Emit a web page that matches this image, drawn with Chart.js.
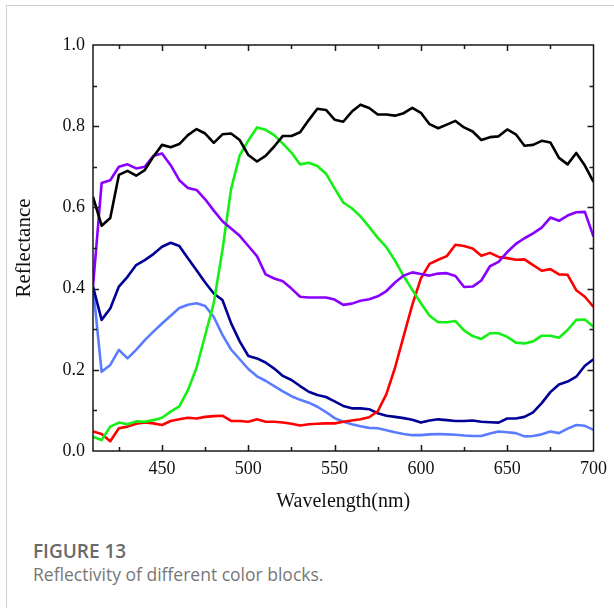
<!DOCTYPE html>
<html>
<head>
<meta charset="utf-8">
<script src="https://cdn.jsdelivr.net/npm/chart.js@4/dist/chart.umd.min.js"></script>
<style>
  html, body { margin: 0; padding: 0; background: #fff; }
  body { width: 614px; height: 608px; position: relative; overflow: hidden; }
  .card { position: absolute; left: 6px; top: 5px; right: 0; bottom: 0; border-left: 1px solid #cfcfcf; border-top: 1px solid #cfcfcf; }
  #reflChart { position: absolute; left: 0; top: 0; }
  .fig-no { position: absolute; left: 33px; top: 538px; font: 600 19px "Open Sans", sans-serif; color: #6a6a6a; }
  .fig-text { position: absolute; left: 33px; top: 562px; font: 17.5px "Open Sans", sans-serif; color: #777; }
</style>
</head>
<body>
<div class="card"></div>
<canvas id="reflChart" width="614" height="521"></canvas>
<div class="fig-no">FIGURE 13</div>
<div class="fig-text">Reflectivity of different color blocks.</div>

<script>
// wavelength samples (nm)
const wavelengths = [410, 415, 420, 425, 430, 435, 440, 445, 450, 455, 460, 465, 470, 475, 480, 485, 490, 495, 500, 505,
    510, 515, 520, 525, 530, 535, 540, 545, 550, 555, 560, 565, 570, 575, 580, 585, 590, 595, 600, 605,
    610, 615, 620, 625, 630, 635, 640, 645, 650, 655, 660, 665, 670, 675, 680, 685, 690, 695, 700];

const blackBlock = [0.626, 0.555, 0.574, 0.680, 0.690, 0.678, 0.692, 0.725, 0.754, 0.748, 0.756, 0.778, 0.793, 0.782, 0.759, 0.780, 0.782, 0.766, 0.729, 0.713,
    0.727, 0.750, 0.776, 0.776, 0.785, 0.815, 0.843, 0.840, 0.816, 0.811, 0.836, 0.853, 0.845, 0.829, 0.829, 0.826, 0.832, 0.845, 0.833, 0.805,
    0.795, 0.804, 0.813, 0.797, 0.787, 0.766, 0.773, 0.775, 0.792, 0.780, 0.752, 0.754, 0.764, 0.760, 0.722, 0.706, 0.734, 0.703, 0.663];

const purpleBlock = [0.405, 0.660, 0.667, 0.700, 0.706, 0.696, 0.700, 0.727, 0.733, 0.704, 0.667, 0.648, 0.643, 0.620, 0.592, 0.566, 0.548, 0.530, 0.505, 0.480,
    0.435, 0.425, 0.418, 0.400, 0.380, 0.378, 0.378, 0.378, 0.373, 0.360, 0.363, 0.370, 0.374, 0.381, 0.394, 0.415, 0.432, 0.440, 0.436, 0.432,
    0.437, 0.438, 0.431, 0.404, 0.405, 0.420, 0.455, 0.466, 0.490, 0.510, 0.524, 0.536, 0.550, 0.575, 0.567, 0.580, 0.588, 0.589, 0.528];

const greenBlock = [0.035, 0.027, 0.060, 0.070, 0.066, 0.073, 0.072, 0.076, 0.082, 0.097, 0.110, 0.150, 0.205, 0.285, 0.365, 0.495, 0.645, 0.728, 0.765, 0.797,
    0.791, 0.778, 0.757, 0.735, 0.706, 0.710, 0.702, 0.683, 0.647, 0.612, 0.598, 0.578, 0.552, 0.525, 0.502, 0.469, 0.431, 0.397, 0.364, 0.333,
    0.317, 0.317, 0.320, 0.297, 0.283, 0.276, 0.290, 0.290, 0.281, 0.267, 0.265, 0.270, 0.284, 0.284, 0.279, 0.298, 0.323, 0.324, 0.306];

const redBlock = [0.048, 0.042, 0.024, 0.056, 0.060, 0.067, 0.070, 0.068, 0.064, 0.074, 0.078, 0.082, 0.080, 0.084, 0.086, 0.087, 0.074, 0.074, 0.072, 0.078,
    0.072, 0.072, 0.070, 0.067, 0.063, 0.066, 0.067, 0.068, 0.068, 0.072, 0.075, 0.078, 0.083, 0.098, 0.140, 0.205, 0.283, 0.360, 0.425, 0.461,
    0.471, 0.480, 0.508, 0.505, 0.499, 0.481, 0.488, 0.478, 0.475, 0.471, 0.472, 0.458, 0.444, 0.448, 0.435, 0.434, 0.396, 0.380, 0.355];

const navyBlock = [0.405, 0.323, 0.351, 0.405, 0.429, 0.458, 0.470, 0.485, 0.503, 0.513, 0.505, 0.475, 0.445, 0.415, 0.388, 0.372, 0.315, 0.270, 0.234, 0.228,
    0.218, 0.203, 0.185, 0.175, 0.160, 0.146, 0.138, 0.133, 0.122, 0.111, 0.105, 0.105, 0.103, 0.093, 0.087, 0.084, 0.081, 0.077, 0.070, 0.075,
    0.078, 0.076, 0.074, 0.074, 0.075, 0.072, 0.071, 0.070, 0.080, 0.080, 0.084, 0.095, 0.118, 0.145, 0.164, 0.171, 0.183, 0.210, 0.226];

const skyBlock = [0.405, 0.195, 0.212, 0.249, 0.228, 0.249, 0.273, 0.294, 0.314, 0.333, 0.352, 0.360, 0.364, 0.357, 0.330, 0.286, 0.250, 0.226, 0.202, 0.184,
    0.173, 0.160, 0.147, 0.135, 0.126, 0.119, 0.109, 0.096, 0.081, 0.072, 0.066, 0.061, 0.057, 0.056, 0.051, 0.046, 0.042, 0.039, 0.039, 0.041,
    0.042, 0.041, 0.040, 0.038, 0.037, 0.037, 0.043, 0.048, 0.046, 0.044, 0.036, 0.037, 0.041, 0.048, 0.044, 0.055, 0.064, 0.062, 0.052];

// axis ticks
const xTickValues = [450, 500, 550, 600, 650, 700];
const yTickValues = [0, 0.2, 0.4, 0.6, 0.8, 1.0];
const xMarks = [425, 450, 475, 500, 525, 550, 575, 600, 625, 650, 675];
const yMarks = [0.1, 0.2, 0.3, 0.4, 0.5, 0.6, 0.7, 0.8, 0.9];

function toPoints(values) {
    return values.map((v, i) => ({ x: wavelengths[i], y: v }));
}

function makeLine(values, color) {
    return {
        data: toPoints(values),
        borderColor: color,
        borderWidth: 2.6,
        pointRadius: 0,
        tension: 0,
        borderJoinStyle: "round",
        fill: false
    };
}

// box around the plot with inward tick marks on every side
const boxTicks = {
    id: "boxTicks",
    afterDraw(chart) {
        const ctx = chart.ctx;
        const a = chart.chartArea;
        const xs = chart.scales.x;
        const ys = chart.scales.y;
        ctx.save();
        ctx.strokeStyle = "#1a1a1a";
        ctx.lineWidth = 1.5;
        ctx.beginPath();
        xMarks.forEach(v => {
            const px = Math.round(xs.getPixelForValue(v)) + 0.5;
            const len = v % 50 === 0 ? 6 : 4;
            ctx.moveTo(px, a.bottom);
            ctx.lineTo(px, a.bottom - len);
            ctx.moveTo(px, a.top);
            ctx.lineTo(px, a.top + len);
        });
        yMarks.forEach(v => {
            const py = Math.round(ys.getPixelForValue(v)) + 0.5;
            const len = Math.round(v * 10) % 2 === 0 ? 6 : 4;
            ctx.moveTo(a.left, py);
            ctx.lineTo(a.left + len, py);
            ctx.moveTo(a.right, py);
            ctx.lineTo(a.right - len, py);
        });
        ctx.stroke();
        ctx.strokeRect(a.left, a.top, a.right - a.left, a.bottom - a.top);
        ctx.restore();
    }
};

const serif = "'Liberation Serif', 'Times New Roman', serif";

new Chart(document.getElementById("reflChart"), {
    type: "line",
    data: {
        datasets: [
            makeLine(blackBlock, "#000000"),
            makeLine(purpleBlock, "#8a00ff"),
            makeLine(greenBlock, "#14f014"),
            makeLine(redBlock, "#ff0000"),
            makeLine(navyBlock, "#000095"),
            makeLine(skyBlock, "#5a7cff")
        ]
    },
    options: {
        responsive: false,
        animation: false,
        devicePixelRatio: 1,
        layout: { padding: { left: 0, right: 16, top: 45, bottom: 0 } },
        plugins: {
            legend: { display: false },
            tooltip: { enabled: false }
        },
        scales: {
            x: {
                type: "linear",
                min: 410,
                max: 700,
                grid: { display: false, drawTicks: false },
                border: { display: false },
                afterBuildTicks: s => { s.ticks = xTickValues.map(v => ({ value: v })); },
                afterFit: s => { s.height = 70; },
                ticks: {
                    padding: 7,
                    color: "#111",
                    font: { family: serif, size: 18 },
                    maxRotation: 0
                },
                title: {
                    display: true,
                    text: "Wavelength(nm)",
                    color: "#111",
                    font: { family: serif, size: 20 },
                    padding: { top: 0, bottom: 7 }
                }
            },
            y: {
                min: 0,
                max: 1,
                grid: { display: false, drawTicks: false },
                border: { display: false },
                afterBuildTicks: s => { s.ticks = yTickValues.map(v => ({ value: v })); },
                afterFit: s => { s.width = 93; },
                ticks: {
                    padding: 8,
                    color: "#111",
                    font: { family: serif, size: 18 },
                    callback: v => Number(v).toFixed(1)
                },
                title: {
                    display: true,
                    text: "Reflectance",
                    color: "#111",
                    font: { family: serif, size: 21 },
                    padding: { top: 12, bottom: 0 }
                }
            }
        }
    },
    plugins: [boxTicks]
});
</script>
</body>
</html>
